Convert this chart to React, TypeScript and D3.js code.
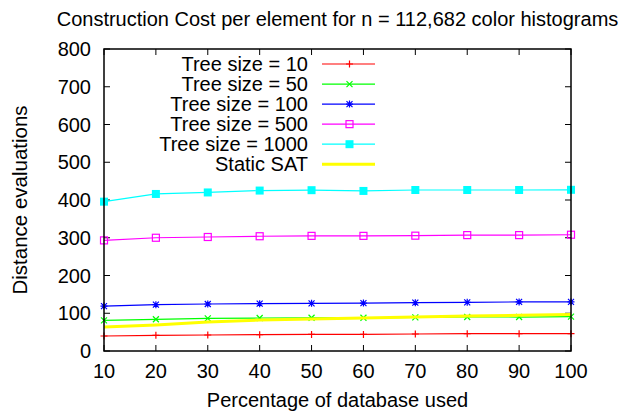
import React from "react";
import * as d3 from "d3";

const xValues = [10, 20, 30, 40, 50, 60, 70, 80, 90, 100];
const tree10 = [39.7, 41.5, 42.4, 43.3, 44, 44, 45, 46, 46, 46];
const tree50 = [81, 84, 86.5, 87.4, 88, 88, 89, 90, 90, 91];
const tree100 = [119, 122.7, 124.5, 125.4, 126.3, 127, 128, 129, 130, 130];
const tree500 = [293, 300, 302, 304, 305, 305, 305.5, 307, 307, 308];
const tree1000 = [395.6, 416, 420, 425, 426, 424, 426.5, 426.5, 426.5, 427];
const staticSAT = [63.6, 69, 77, 82, 85, 87.4, 90, 92.7, 94.5, 97];
const yTicks = [0, 100, 200, 300, 400, 500, 600, 700, 800];
const xTicks = [10, 20, 30, 40, 50, 60, 70, 80, 90, 100];

type Series = { name: string; values: number[]; color: string; marker: string; width: number };
const series: Series[] = [
  { name: "Tree size = 10", values: tree10, color: "#ff0000", marker: "plus", width: 1.2 },
  { name: "Tree size = 50", values: tree50, color: "#00ff00", marker: "cross", width: 1.2 },
  { name: "Tree size = 100", values: tree100, color: "#0000ff", marker: "star", width: 1.2 },
  { name: "Tree size = 500", values: tree500, color: "#ff00ff", marker: "box", width: 1.2 },
  { name: "Tree size = 1000", values: tree1000, color: "#00ffff", marker: "fbox", width: 1.2 },
  { name: "Static SAT", values: staticSAT, color: "#ffff00", marker: "none", width: 3 },
];

const W = 621, H = 416;
const left = 104, right = 571, top = 49, bottom = 351;
const FONT = "'Liberation Sans', Arial, Helvetica, sans-serif";

function Marker({ type, x, y, color }: { type: string; x: number; y: number; color: string }) {
  const s = 3.5;
  if (type === "plus")
    return <path d={`M${x - s},${y}H${x + s}M${x},${y - s}V${y + s}`} stroke={color} strokeWidth={1.2} fill="none" />;
  if (type === "cross")
    return <path d={`M${x - 3},${y - 3}L${x + 3},${y + 3}M${x - 3},${y + 3}L${x + 3},${y - 3}`} stroke={color} strokeWidth={1.2} fill="none" />;
  if (type === "star")
    return <path d={`M${x - s},${y}H${x + s}M${x},${y - s}V${y + s}M${x - 3},${y - 3}L${x + 3},${y + 3}M${x - 3},${y + 3}L${x + 3},${y - 3}`} stroke={color} strokeWidth={1.2} fill="none" />;
  if (type === "box")
    return <rect x={x - 3.5} y={y - 3.5} width={7} height={7} stroke={color} strokeWidth={1.2} fill="none" />;
  if (type === "fbox")
    return <rect x={x - 4} y={y - 4} width={8} height={8} fill={color} />;
  return null;
}

export default function App() {
  const x = d3.scaleLinear().domain([10, 100]).range([left, right]);
  const y = d3.scaleLinear().domain([0, 800]).range([bottom, top]);
  const line = d3.line<number>().x((_, i) => x(xValues[i])).y((d) => y(d));

  const legX1 = 322, legX2 = 375, legTextX = 308, legY0 = 64, legStep = 20.05;

  return (
    <svg width={W} height={H} style={{ position: "absolute", left: 0, top: 0, background: "#fff" }} fontFamily={FONT}>
      <rect width={W} height={H} fill="#fff" />
      <text x={(left + right) / 2} y={26} textAnchor="middle" fontSize={20}>
        Construction Cost per element for n = 112,682 color histograms
      </text>
      {yTicks.map((t) => (
        <g key={"y" + t}>
          <line x1={left} x2={left + 6} y1={y(t)} y2={y(t)} stroke="#000" strokeWidth={1} />
          <line x1={right} x2={right - 6} y1={y(t)} y2={y(t)} stroke="#000" strokeWidth={1} />
          <text x={left - 13} y={y(t) + 7} textAnchor="end" fontSize={20}>{t}</text>
        </g>
      ))}
      {xTicks.map((t) => (
        <g key={"x" + t}>
          <line x1={x(t)} x2={x(t)} y1={bottom} y2={bottom - 6} stroke="#000" strokeWidth={1} />
          <line x1={x(t)} x2={x(t)} y1={top} y2={top + 6} stroke="#000" strokeWidth={1} />
          <text x={x(t)} y={378} textAnchor="middle" fontSize={20}>{t}</text>
        </g>
      ))}
      {series.map((s) => (
        <g key={s.name}>
          <path d={line(s.values) || ""} stroke={s.color} strokeWidth={s.width} fill="none" />
          {s.values.map((v, i) => (
            <Marker key={i} type={s.marker} x={x(xValues[i])} y={y(v)} color={s.color} />
          ))}
        </g>
      ))}
      {series.map((s, i) => {
        const ly = legY0 + i * legStep;
        return (
          <g key={"leg" + s.name}>
            <text x={legTextX} y={ly + 7} textAnchor="end" fontSize={20}>{s.name}</text>
            <line x1={legX1} x2={legX2} y1={ly} y2={ly} stroke={s.color} strokeWidth={s.width} />
            <Marker type={s.marker} x={(legX1 + legX2) / 2 + 1} y={ly} color={s.color} />
          </g>
        );
      })}
      <rect x={left} y={top} width={right - left} height={bottom - top} fill="none" stroke="#000" strokeWidth={1.5} />
      <text x={(left + right) / 2} y={407} textAnchor="middle" fontSize={20}>Percentage of database used</text>
      <text transform={`translate(27,${(top + bottom) / 2}) rotate(-90)`} textAnchor="middle" fontSize={20.5}>
        Distance evaluations
      </text>
    </svg>
  );
}
